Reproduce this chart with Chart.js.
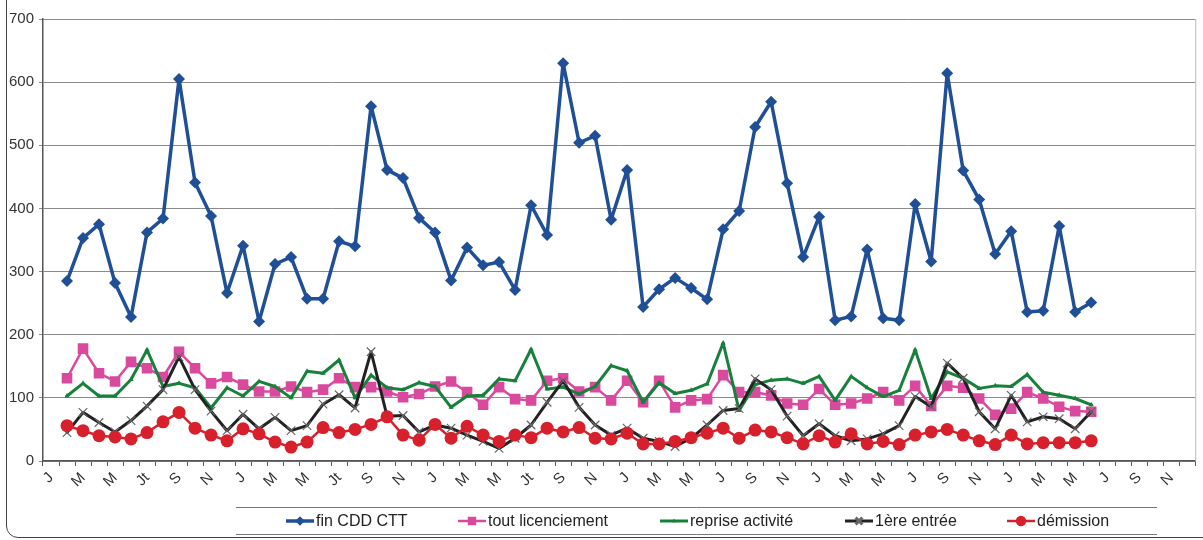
<!DOCTYPE html>
<html lang="fr">
  <head>
    <meta charset="utf-8" />
    <title>Entrées au chômage par motif</title>
    <style>
      * {
        margin: 0;
        padding: 0;
      }
      body {
        width: 1203px;
        height: 540px;
        overflow: hidden;
        background: white;
        position: relative;
      }
      .frame {
        position: absolute;
        left: 6px;
        top: -30px;
        width: 1240px;
        height: 566px;
        border: 1.5px solid #444;
        border-radius: 12px;
        pointer-events: none;
      }
      canvas {
        position: absolute;
        left: 0;
        top: 0;
      }
    </style>
  </head>
  <body>
    <canvas id="myChart" width="1203" height="540"></canvas>
    <div class="frame"></div>

    <script src="https://cdn.jsdelivr.net/npm/chart.js@4.4.1/dist/chart.umd.min.js"></script>
    <script>
      // one label every two months, the month in between has none
      const tickLabels = [
        "J", "M", "M", "Jt", "S", "N",
        "J", "M", "M", "Jt", "S", "N",
        "J", "M", "M", "Jt", "S", "N",
        "J", "M", "M", "J", "S", "N",
        "J", "M", "M", "J", "S", "N",
        "J", "M", "M", "J", "S", "N",
      ];
      const categories = [];
      tickLabels.forEach((t) => categories.push(t, ""));

      // series start on the 2nd month (février of year 1)
      const finCdd = [
        285, 353, 375, 282, 228, 362, 384, 605, 441, 388,
        266, 341, 221, 312, 323, 257, 257, 348, 340, 562,
        461, 448, 385, 362, 286, 338, 310, 315, 271, 405,
        358, 630, 504, 515, 382, 461, 244, 272, 290, 274,
        256, 367, 396, 529, 569, 440, 323, 387, 223, 229,
        335, 226, 223, 407, 316, 614, 460, 414, 328, 364,
        236, 238, 372, 236, 251,
      ];
      const licenciement = [
        131, 178, 139, 126, 157, 147, 133, 173, 147, 123,
        133, 121, 110, 110, 118, 109, 113, 131, 117, 117,
        110, 101, 106, 118, 126, 109, 89, 117, 98, 96,
        127, 131, 110, 117, 96, 127, 93, 127, 85, 96,
        98, 136, 109, 109, 104, 91, 89, 114, 89, 91,
        99, 109, 96, 119, 87, 119, 116, 99, 73, 83,
        109, 99, 86, 79, 78,
      ];
      const reprise = [
        103, 123, 103, 103, 129, 176, 118, 123, 116, 84,
        116, 103, 126, 118, 100, 142, 139, 160, 100, 136,
        116, 113, 124, 118, 85, 103, 104, 130, 127, 177,
        114, 117, 106, 118, 151, 143, 93, 124, 107, 112,
        122, 187, 80, 121, 128, 130, 123, 134, 96, 134,
        116, 102, 112, 176, 99, 141, 131, 115, 119, 118,
        137, 109, 104, 99, 89,
      ];
      const premiereEntree = [
        45, 77, 61, 46, 64, 87, 113, 165, 113, 79,
        48, 74, 51, 69, 48, 56, 90, 105, 84, 173,
        71, 72, 46, 57, 52, 41, 31, 20, 36, 57,
        93, 127, 85, 57, 41, 52, 36, 31, 23, 36,
        57, 80, 83, 130, 113, 71, 40, 59, 40, 32,
        35, 43, 56, 102, 86, 155, 131, 78, 51, 104,
        62, 70, 67, 51, 78,
      ];
      const demission = [
        56, 48, 40, 38, 35, 45, 62, 77, 52, 41,
        32, 51, 43, 30, 22, 30, 53, 45, 50, 58,
        70, 41, 33, 58, 36, 55, 41, 31, 41, 37,
        52, 46, 53, 36, 35, 44, 27, 27, 31, 37,
        44, 52, 36, 49, 46, 37, 27, 40, 30, 43,
        27, 31, 26, 41, 46, 50, 41, 32, 26, 41,
        27, 29, 29, 29, 32,
      ];

      const shift = (arr) => [null, ...arr];

      const data = {
        labels: categories,
        datasets: [
          {
            label: "fin CDD CTT",
            data: shift(finCdd),
            borderColor: "#1f4f96",
            backgroundColor: "#1f4f96",
            borderWidth: 3.5,
            pointStyle: "rectRot",
            pointRadius: 6,
            pointBorderWidth: 0,
            order: 5,
          },
          {
            label: "tout licenciement",
            data: shift(licenciement),
            borderColor: "#d94a9f",
            backgroundColor: "#d94a9f",
            borderWidth: 2.5,
            pointStyle: "rect",
            pointRadius: 7.5,
            pointBorderWidth: 0,
            order: 4,
          },
          {
            label: "reprise activité",
            data: shift(reprise),
            borderColor: "#17803a",
            backgroundColor: "#17803a",
            borderWidth: 3,
            pointStyle: "triangle",
            pointRadius: 3,
            pointBorderWidth: 0,
            order: 3,
          },
          {
            label: "1ère entrée",
            data: shift(premiereEntree),
            borderColor: "#222222",
            backgroundColor: "#222222",
            borderWidth: 3,
            pointStyle: "crossRot",
            pointRadius: 6,
            pointBorderColor: "#666666",
            pointBorderWidth: 1.2,
            order: 2,
          },
          {
            label: "démission",
            data: shift(demission),
            borderColor: "#d8202c",
            backgroundColor: "#d8202c",
            borderWidth: 2.5,
            pointStyle: "circle",
            pointRadius: 6.5,
            pointBorderWidth: 0,
            order: 1,
          },
        ],
      };

      // right border of the plot area
      const plotBorder = {
        id: "plotBorder",
        afterDraw(chart) {
          const { ctx, chartArea } = chart;
          ctx.save();
          ctx.strokeStyle = "#bbbbbb";
          ctx.lineWidth = 1;
          ctx.beginPath();
          ctx.moveTo(chartArea.right + 0.5, chartArea.top);
          ctx.lineTo(chartArea.right + 0.5, chartArea.bottom);
          ctx.stroke();
          ctx.restore();
        },
      };

      // Excel style legend: line + marker, between two rules
      const lineLegend = {
        id: "lineLegend",
        afterDraw(chart) {
          const { ctx } = chart;
          const starts = [286, 458, 660, 845, 1007];
          const y = 521;
          ctx.save();
          ctx.strokeStyle = "#777777";
          ctx.lineWidth = 1;
          ctx.beginPath();
          ctx.moveTo(236, 507.5);
          ctx.lineTo(1157, 507.5);
          ctx.moveTo(236, 534.5);
          ctx.lineTo(1157, 534.5);
          ctx.stroke();

          chart.data.datasets.forEach((ds, i) => {
            const x0 = starts[i];
            ctx.strokeStyle = ds.borderColor;
            ctx.lineWidth = ds.borderWidth;
            ctx.beginPath();
            ctx.moveTo(x0, y);
            ctx.lineTo(x0 + 28, y);
            ctx.stroke();
            ctx.fillStyle = ds.backgroundColor;
            ctx.strokeStyle = ds.pointBorderColor || ds.borderColor;
            Chart.helpers.drawPoint(
              ctx,
              {
                pointStyle: ds.pointStyle,
                radius: ds.pointRadius * 0.8,
                rotation: 0,
                borderWidth: ds.pointBorderWidth,
              },
              x0 + 14,
              y
            );
            ctx.fillStyle = "#222222";
            ctx.font = "16px 'Liberation Sans', Arial, sans-serif";
            ctx.textAlign = "left";
            ctx.textBaseline = "middle";
            ctx.fillText(ds.label, x0 + 30, y + 1);
          });
          ctx.restore();
        },
      };

      const config = {
        type: "line",
        data: data,
        options: {
          responsive: false,
          animation: false,
          layout: {
            padding: { left: 7, right: 6, top: 19, bottom: 33 },
          },
          elements: {
            line: { tension: 0, borderJoinStyle: "round", borderCapStyle: "round" },
          },
          scales: {
            x: {
              offset: true,
              grid: {
                display: true,
                drawOnChartArea: false,
                offset: true,
                tickLength: 5,
                color: "#555555",
              },
              border: { color: "#555555", width: 1.5 },
              ticks: {
                autoSkip: false,
                minRotation: 45,
                maxRotation: 45,
                padding: 3,
                color: "#333333",
                font: { family: "'Liberation Sans', Arial, sans-serif", size: 15 },
                callback: (v, i) => categories[i],
              },
              afterFit(scale) {
                scale.height = 46;
              },
            },
            y: {
              min: 0,
              max: 700,
              ticks: {
                stepSize: 100,
                padding: 5,
                color: "#333333",
                font: { family: "'Liberation Sans', Arial, sans-serif", size: 15 },
              },
              grid: { color: "#8a8a8a", tickLength: 4 },
              border: { color: "#555555", width: 1.5 },
              afterFit(scale) {
                scale.width = 36;
              },
            },
          },
          plugins: {
            legend: { display: false },
            tooltip: { enabled: false },
          },
        },
        plugins: [plotBorder, lineLegend],
      };

      const myChart = new Chart(document.getElementById("myChart"), config);
    </script>
  </body>
</html>
